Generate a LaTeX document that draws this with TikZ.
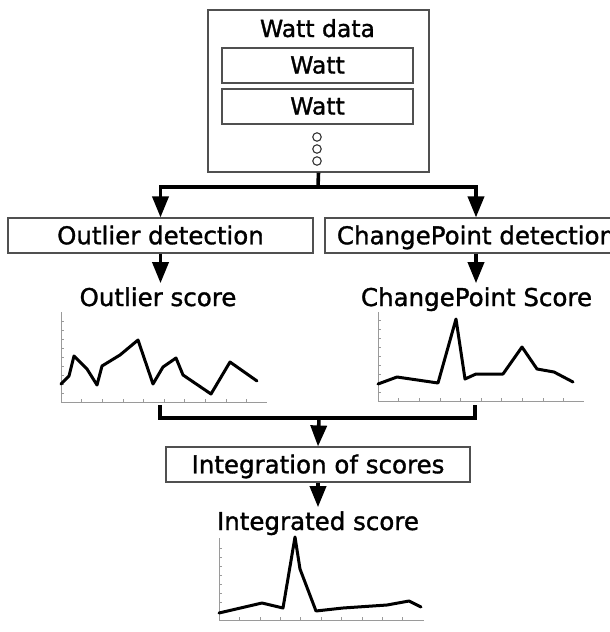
\documentclass[tikz,border=0pt]{standalone}
\usepackage{fontspec}
\setmainfont{DejaVu Sans}[BoldFont=DejaVu Sans,BoldFeatures={FakeBold=1.3}]
\usetikzlibrary{arrows.meta}
\definecolor{boxgray}{HTML}{505050}
\definecolor{axisgray}{HTML}{9A9A9A}

\begin{document}
\begin{tikzpicture}[x=1pt,y=-1pt,
  box/.style={draw=boxgray,line width=1.1pt,inner sep=0pt,
    font=\fontsize{24.5}{28}\selectfont\bfseries,text height=17.5pt,text depth=0pt},
  wattbox/.style={box,font=\fontsize{23.5}{27}\selectfont\bfseries,text height=16pt,
    minimum width=191pt,minimum height=35pt},
  lbl/.style={font=\fontsize{24.5}{28}\selectfont\bfseries,inner sep=0pt,anchor=base},
  conn/.style={line width=3.6pt},
  arr/.style={conn,-{Triangle[length=21pt,width=16pt]}},
  axisline/.style={draw=axisgray,line width=0.9pt},
  tickline/.style={draw=axisgray,line width=0.6pt},
  curve/.style={line width=3pt,line join=round,line cap=round},
  dot/.style={circle,draw=black!80,line width=1.1pt,inner sep=0pt,minimum size=8.5pt}
]
\useasboundingbox (0,0) rectangle (610,632);
\clip (0,0) rectangle (610,632);

% --- source data block ---
\node[draw=boxgray,line width=1.1pt,minimum width=221pt,minimum height=162pt,inner sep=0pt]
  (wd) at (318.5,91) {};
\node[font=\fontsize{23.5}{27}\selectfont\bfseries,inner sep=0pt,anchor=base] (wdtitle) at (317.5,37) {Watt data};
\node[wattbox] (w1) at (317.5,65.5) {Watt};
\node[wattbox] (w2) at (317.5,106.5) {Watt};
\node[dot] (d1) at (317,137) {};
\node[dot] (d2) at (317,149) {};
\node[dot] (d3) at (317,161) {};

% --- detection stages ---
\node[box,minimum width=305pt,minimum height=35pt] (od) at (160.5,235.5) {Outlier detection};
\node[box,minimum width=302pt,minimum height=35pt] (cp) at (476,235.5) {ChangePoint detection};

\coordinate (split) at (318,187);
\draw[conn] (wd.south) -- (split);
\draw[arr] (split) -| (od.north);
\draw[arr] (split) -| (cp.north);

% --- score labels ---
\node[lbl] (os) at (158,306) {Outlier score};
\node[lbl] (cs) at (476.5,306) {ChangePoint Score};
\draw[arr,shorten >=4pt] (od.south) -- (od.south |- os.north);
\draw[arr,shorten >=4pt] (cp.south) -- (cp.south |- cs.north);

% --- outlier score chart ---
\draw[axisline] (61,312) -- (61,402) -- (267,402);
\foreach \k in {1,...,9} {
  \draw[tickline] (61+20.6*\k,402) -- ++(0,-3);
  \draw[tickline] (61,402-9*\k) -- ++(3,0);
}
\draw[curve] (61,384) -- (69,376) -- (74,356) -- (87,369) -- (97,385) -- (102,366)
  -- (120,355) -- (138,340) -- (153,384) -- (163,367) -- (176,358) -- (183,375)
  -- (211,394) -- (230,362) -- (257,381);

% --- change point score chart ---
\draw[axisline] (378,312) -- (378,401) -- (584,401);
\foreach \k in {1,...,9} {
  \draw[tickline] (378+20.6*\k,401) -- ++(0,-3);
  \draw[tickline] (378,401-9*\k) -- ++(3,0);
}
\draw[curve] (378,384) -- (397,377) -- (438,383) -- (456,319) -- (465,379) -- (476,374)
  -- (503,374) -- (522,347) -- (537,369) -- (554,372) -- (573,382);

% --- merge into integration ---
\coordinate (ochart) at (160,405);
\coordinate (cchart) at (475,405);
\coordinate (merge) at (319,418);
\draw[conn] (ochart) |- (merge) -| (cchart);

\node[box,minimum width=304pt,minimum height=35pt] (ib) at (318,464.5) {Integration of scores};
\draw[arr] (merge) -- (ib.north);

\node[lbl] (is) at (318,530) {Integrated score};
\draw[arr,shorten >=4pt] (ib.south) -- (ib.south |- is.north);

% --- integrated score chart ---
\draw[axisline] (219,538) -- (219,620) -- (424,620);
\foreach \k in {1,...,9} {
  \draw[tickline] (219+20.4*\k,620) -- ++(0,-3);
}
\foreach \k in {1,...,8} {
  \draw[tickline] (219,620-9*\k) -- ++(3,0);
}
\draw[curve] (219,613) -- (262,603) -- (283,608) -- (295,537) -- (300,569) -- (316,611)
  -- (343,608) -- (387,605) -- (409,601) -- (421,607);
\end{tikzpicture}
\end{document}
